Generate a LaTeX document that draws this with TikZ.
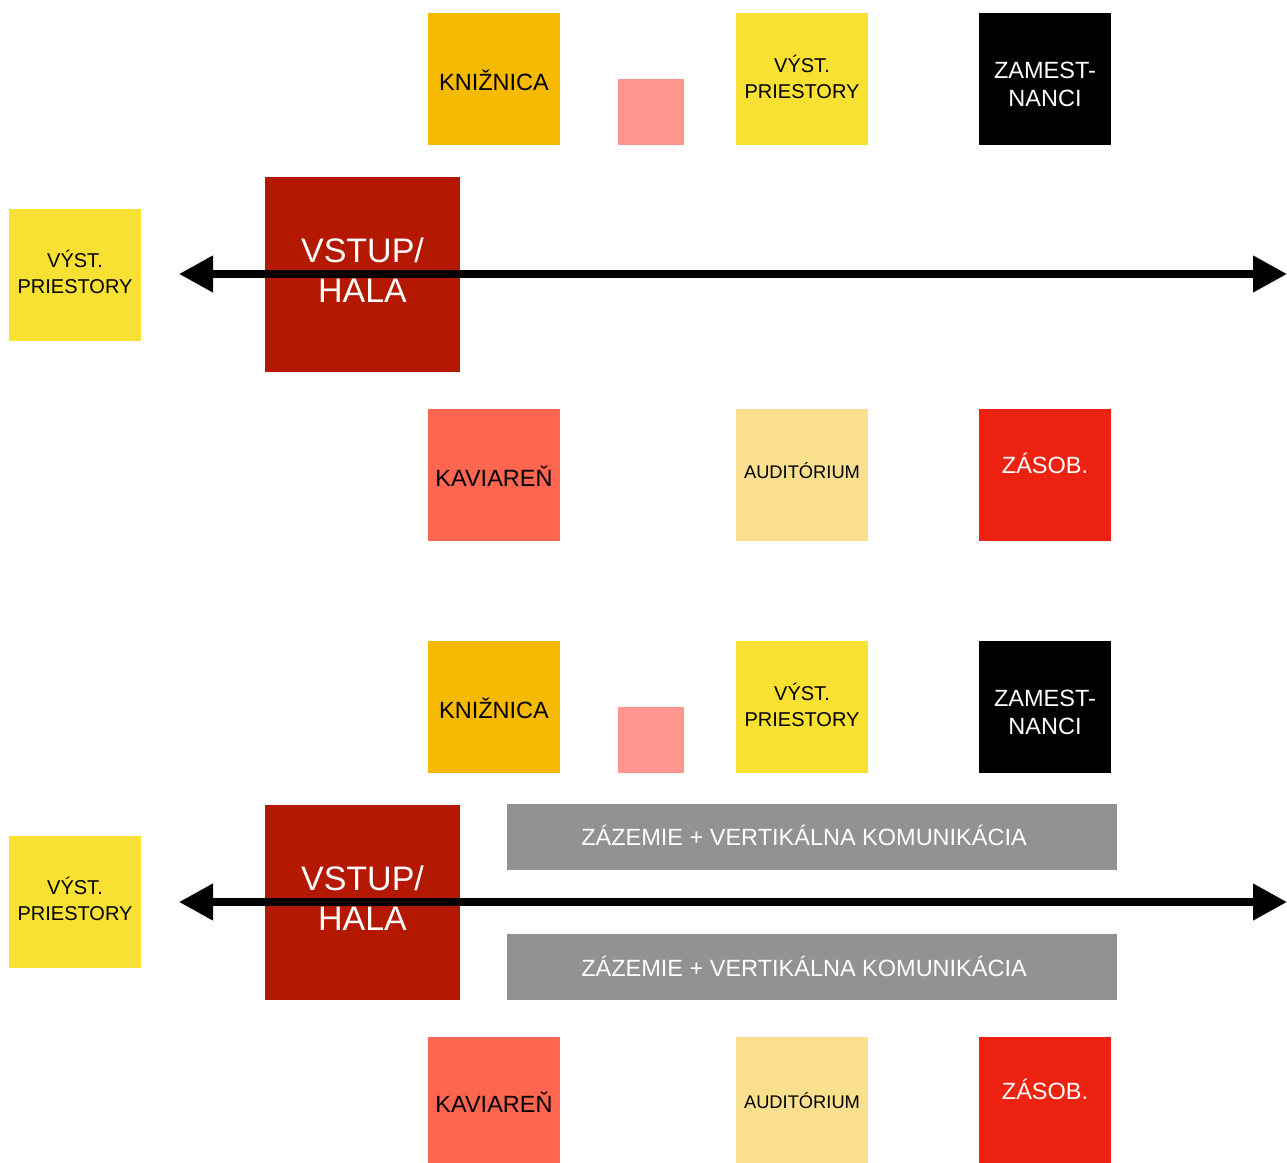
\documentclass[tikz,border=0pt]{standalone}
\usepackage{fontspec}
\setmainfont{Liberation Sans}
\usetikzlibrary{arrows.meta}
\definecolor{cKnih}{HTML}{F6BA00}
\definecolor{cPink}{HTML}{FF968E}
\definecolor{cYel}{HTML}{F8E132}
\definecolor{cVst}{HTML}{B41800}
\definecolor{cKav}{HTML}{FE6650}
\definecolor{cAud}{HTML}{F9DF8E}
\definecolor{cZas}{HTML}{EE2210}
\definecolor{cGray}{HTML}{929292}
\tikzset{
  box/.style={inner sep=0pt, outer sep=0pt, minimum size=132pt, draw=none},
  tx/.style={inner sep=0pt, align=center, font=\fontsize{23.5}{28}\selectfont},
  txs/.style={inner sep=0pt, align=center, font=\fontsize{20}{26}\selectfont},
  conn/.style={line width=7.5pt, {Triangle[length=34pt,width=35pt]}-{Triangle[length=34pt,width=35pt]}},
}
\begin{document}
\begin{tikzpicture}[x=1pt,y=-1pt]
\clip (0,0) rectangle (1287,1162);
\fill[white] (0,0) rectangle (1287,1162);
% ---------- top half ----------
\node[box, fill=cKnih, label={[tx,yshift=-1]center:KNIŽNICA}] (kn1) at (494,79) {};
\node[box, fill=cPink, minimum size=66pt] (pk1) at (651,112) {};
\node[box, fill=cYel, label={[txs,yshift=2]center:VÝST.\\PRIESTORY}] (vy1) at (802,79) {};
\node[box, fill=black, label={[tx,text=white,yshift=-5]center:ZAMEST-\\NANCI}] (za1) at (1045,79) {};
\node[box, fill=cYel, label={[txs,yshift=3]center:VÝST.\\PRIESTORY}] (vl1) at (75,275) {};
\node[box, fill=cVst, minimum size=195pt, label={[font=\fontsize{34}{40}\selectfont,align=center,text=white,inner sep=0pt,yshift=4]center:VSTUP/\\HALA}] (vs1) at (362.5,274.5) {};
\node[box, fill=cKav, label={[tx,yshift=-1]center:KAVIAREŇ}] (ka1) at (494,475) {};
\node[box, fill=cAud, label={[inner sep=0pt,font=\fontsize{18.3}{22}\selectfont,yshift=4]center:AUDITÓRIUM}] (au1) at (802,475) {};
\node[box, fill=cZas, label={[tx,text=white,yshift=12]center:ZÁSOB.}] (zs1) at (1045,475) {};
\coordinate (l1) at (179,274);
\coordinate (r1) at (1287,274);
\draw[conn] (l1) -- (r1);
% ---------- bottom half ----------
\node[box, fill=cKnih, label={[tx,yshift=-1]center:KNIŽNICA}] (kn2) at (494,707) {};
\node[box, fill=cPink, minimum size=66pt] (pk2) at (651,740) {};
\node[box, fill=cYel, label={[txs,yshift=2]center:VÝST.\\PRIESTORY}] (vy2) at (802,707) {};
\node[box, fill=black, label={[tx,text=white,yshift=-5]center:ZAMEST-\\NANCI}] (za2) at (1045,707) {};
\node[box, fill=cYel, label={[txs,yshift=3]center:VÝST.\\PRIESTORY}] (vl2) at (75,902) {};
\node[box, fill=cVst, minimum size=195pt, label={[font=\fontsize{34}{40}\selectfont,align=center,text=white,inner sep=0pt,yshift=4]center:VSTUP/\\HALA}] (vs2) at (362.5,902.5) {};
\node[box, fill=cGray, minimum width=610pt, minimum height=66pt, label={[tx,text=white,xshift=-8,yshift=2]center:ZÁZEMIE + VERTIKÁLNA KOMUNIKÁCIA}] (zz1) at (812,837) {};
\node[box, fill=cGray, minimum width=610pt, minimum height=66pt, label={[tx,text=white,xshift=-8,yshift=1]center:ZÁZEMIE + VERTIKÁLNA KOMUNIKÁCIA}] (zz2) at (812,967) {};
\node[box, fill=cKav, label={[tx,yshift=1]center:KAVIAREŇ}] (ka2) at (494,1103) {};
\node[box, fill=cAud, label={[inner sep=0pt,font=\fontsize{18.3}{22}\selectfont,yshift=2]center:AUDITÓRIUM}] (au2) at (802,1103) {};
\node[box, fill=cZas, label={[tx,text=white,yshift=14]center:ZÁSOB.}] (zs2) at (1045,1103) {};
\coordinate (l2) at (179,902);
\coordinate (r2) at (1287,902);
\draw[conn] (l2) -- (r2);
\end{tikzpicture}
\end{document}
